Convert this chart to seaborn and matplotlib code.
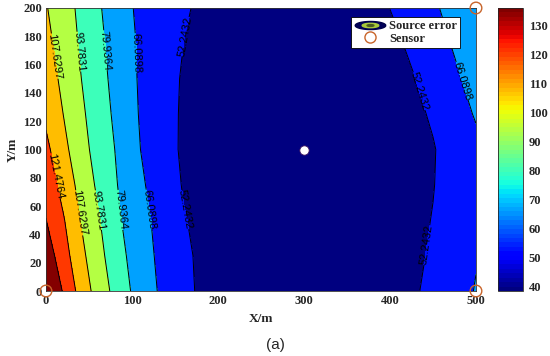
import numpy as np
import matplotlib
matplotlib.use("Agg")
import matplotlib.pyplot as plt
import seaborn as sns
import pandas as pd
from matplotlib.path import Path
from matplotlib.lines import Line2D
from matplotlib.legend_handler import HandlerTuple
from matplotlib.markers import MarkerStyle

# ---- data ----
x_nodes = [0, 20, 40, 60, 80, 100, 130, 160, 200, 250, 300, 350, 400, 450, 500]
y_nodes = [0, 25, 50, 75, 100, 125, 150, 175, 200]
err_y0   = [150.0, 134.4, 116.6, 102.2, 90.3, 79.0, 65.8, 54.5, 47.5, 43.0, 41.0, 42.0, 46.0, 55.0, 66.8]
err_y25  = [143.0, 127.6, 111.7, 98.6, 86.9, 76.5, 64.4, 54.2, 47.0, 42.0, 40.2, 41.5, 45.0, 53.8, 65.3]
err_y50  = [135.6, 122.8, 107.6, 95.6, 83.5, 74.4, 63.1, 53.0, 46.0, 41.0, 39.5, 41.0, 45.0, 52.7, 64.0]
err_y75  = [130.5, 116.7, 103.4, 91.7, 81.4, 72.1, 60.6, 51.4, 45.0, 40.5, 38.8, 40.5, 44.5, 51.8, 63.5]
err_y100 = [124.8, 111.6, 99.2, 88.9, 79.9, 69.7, 58.7, 50.5, 44.0, 40.0, 38.4, 40.0, 44.0, 51.5, 63.0]
err_y125 = [118.7, 107.6, 96.6, 87.1, 78.0, 68.5, 58.7, 50.6, 44.5, 40.2, 38.7, 40.7, 45.0, 53.6, 67.2]
err_y150 = [114.8, 104.5, 94.3, 85.3, 76.4, 67.8, 59.0, 51.0, 45.0, 40.5, 39.0, 41.5, 46.0, 56.5, 71.0]
err_y175 = [111.4, 101.9, 92.5, 83.5, 75.2, 67.3, 59.5, 52.2, 46.0, 41.2, 39.5, 42.5, 48.5, 60.9, 73.8]
err_y200 = [108.5, 99.8, 91.0, 81.8, 73.9, 66.4, 60.0, 53.7, 47.0, 42.0, 40.0, 44.0, 52.4, 64.5, 75.0]
levels = [38.3966, 52.2432, 66.0898, 79.9364, 93.7831, 107.6297, 121.4764, 135.3230, 160.0]
cbar_min, cbar_max = 38.4, 136.0
cbar_ticks = [40, 50, 60, 70, 80, 90, 100, 110, 120, 130]
sensor_x = [0, 500, 500]
sensor_y = [0, 0, 200]
source_x = [300]
source_y = [100]
xticks = [0, 100, 200, 300, 400, 500]
yticks = [0, 20, 40, 60, 80, 100, 120, 140, 160, 180, 200]

Z = np.array([err_y0, err_y25, err_y50, err_y75, err_y100,
              err_y125, err_y150, err_y175, err_y200])
X, Y = np.meshgrid(x_nodes, y_nodes)

sns.set_theme(style="white")
plt.rcParams['font.family'] = ['Liberation Serif', 'DejaVu Serif']

fig = plt.figure(figsize=(5.5, 3.56), dpi=100)
ax = fig.add_axes([46/550, 1-291/356, 430/550, 283/356])
cax = fig.add_axes([498/550, 1-291/356, 25/550, 283/356])

cmap = plt.get_cmap('jet')
norm = matplotlib.colors.Normalize(cbar_min, cbar_max)
band_colors = [cmap(norm(l)) for l in levels[:-1]]

cf = ax.contourf(X, Y, Z, levels=levels, colors=band_colors)
cs = ax.contour(X, Y, Z, levels=levels[1:-1], colors='black', linewidths=0.7)

label_pos = [(10, 166), (36, 169), (66, 170), (101, 168), (160, 180),
             (433, 141), (482, 148),
             (7, 81), (36, 55), (59, 57), (83, 57), (113, 57), (158, 57), (449, 32)]
lbls = ax.clabel(cs, fmt='%.4f', fontsize=8, manual=label_pos, inline=True,
                 inline_spacing=2)
for t in lbls:
    t.set_family(['Liberation Sans', 'DejaVu Sans'])

# sensors and source point
sens_df = pd.DataFrame({'x': sensor_x, 'y': sensor_y})
sns.scatterplot(data=sens_df, x='x', y='y', ax=ax, s=70, facecolor='none',
                edgecolor='#c8642a', linewidth=1.0, clip_on=False, zorder=5)
src_df = pd.DataFrame({'x': source_x, 'y': source_y})
sns.scatterplot(data=src_df, x='x', y='y', ax=ax, s=45, color='white',
                edgecolor='#3a1060', linewidth=0.6, zorder=5)

ax.set_xlim(0, 500)
ax.set_ylim(0, 200)
ax.set_xticks(xticks)
ax.set_yticks(yticks)
ax.tick_params(direction='in', length=3, labelsize=9, pad=3)
for lab in ax.get_xticklabels() + ax.get_yticklabels():
    lab.set_fontweight('bold')
ax.set_xlabel('X/m', fontsize=9.5, fontweight='bold', labelpad=4)
ax.set_ylabel('Y/m', fontsize=9.5, fontweight='bold', labelpad=3)
for sp in ax.spines.values():
    sp.set_linewidth(0.6)
    sp.set_color('#333333')

# legend
t = np.linspace(0, 2*np.pi, 60)
ell = MarkerStyle(Path(np.column_stack([3.8*np.cos(t), np.sin(t)])))
h_src = (Line2D([], [], ls='', marker=ell, ms=22, mfc='#00005a', mec='#00004a'),
         Line2D([], [], ls='', marker=ell, ms=12, mfc='#a8c83a', mec='#a8c83a'),
         Line2D([], [], ls='', marker=ell, ms=5, mfc='#4a5a20', mec='#4a5a20'))
h_sen = Line2D([], [], ls='', marker='o', ms=8, mfc='none', mec='#c8642a', mew=1.0)
leg = ax.legend([h_src, h_sen], ['Source error', 'Sensor'],
                handler_map={tuple: HandlerTuple(ndivide=1)},
                loc='upper right', bbox_to_anchor=(0.963, 0.968),
                prop={'family': 'Liberation Serif', 'weight': 'bold', 'size': 9},
                frameon=True, fancybox=False, edgecolor='black', framealpha=1,
                borderpad=0.25, labelspacing=0.05, handlelength=2.6,
                handletextpad=0.2, borderaxespad=0.0)
leg.get_frame().set_linewidth(0.6)

# colorbar
sm = matplotlib.cm.ScalarMappable(norm=norm, cmap=plt.get_cmap('jet', 64))
cb = fig.colorbar(sm, cax=cax, ticks=cbar_ticks)
cb.outline.set_linewidth(0.6)
cax.tick_params(direction='in', length=3, labelsize=9, pad=4)
for lab in cax.get_yticklabels():
    lab.set_fontweight('bold')

fig.text(275/550, 1-345/356, '(a)', ha='center', va='center', fontsize=11,
         family=['Liberation Sans', 'DejaVu Sans'])

fig.savefig('out.png', dpi=100)
